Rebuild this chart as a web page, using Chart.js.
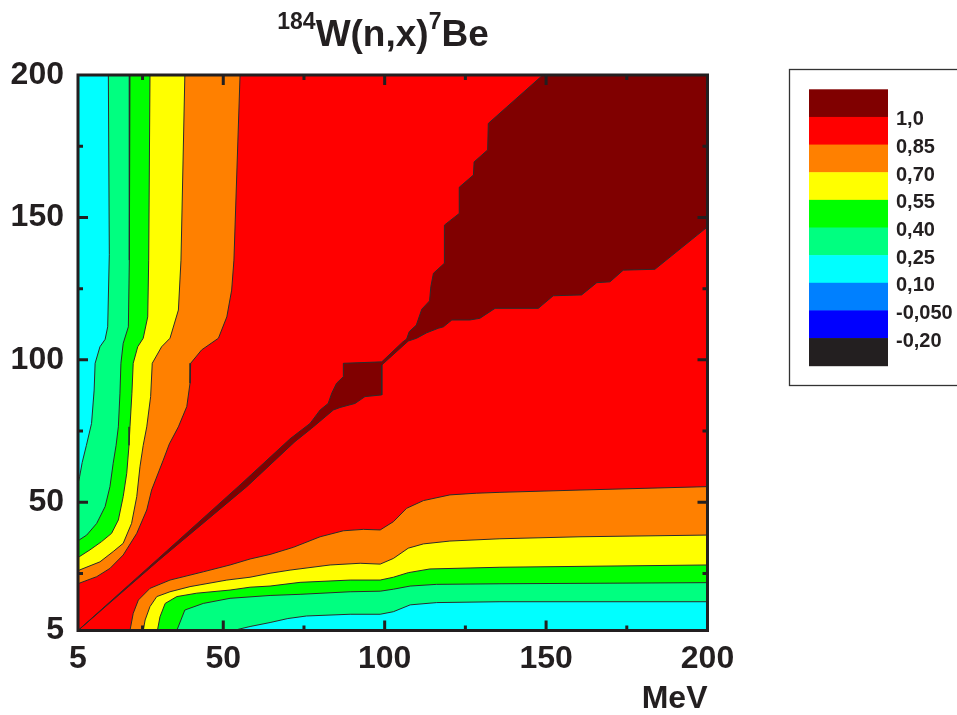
<!DOCTYPE html>
<html>
<head>
<meta charset="utf-8">
<script src="https://cdn.jsdelivr.net/npm/chart.js"></script>
<style>
  html, body { margin: 0; padding: 0; background: #fff; }
  #wrap { position: relative; width: 957px; height: 715px; }
</style>
</head>
<body>
<div id="wrap"><canvas id="contour" width="957" height="715"></canvas></div>
<script>
// axes (MeV on both)
const tickValues = [5, 50, 100, 150, 200];
const majorTicks = [50, 100, 150];
const minorTicks = [25, 75, 125, 175];

// fill colour of each band, lowest first
const bandColors = ['#00ffff', '#00ff80', '#00ff00', '#ffff00', '#ff8000', '#ff0000', '#800000'];

// colour key, top to bottom
const legendColors = ['#800000', '#ff0000', '#ff8000', '#ffff00', '#00ff00', '#00ff80', '#00ffff', '#0080ff', '#0000ff', '#231f20'];
const legendLabels = ['1,0', '0,85', '0,70', '0,55', '0,40', '0,25', '0,10', '-0,050', '-0,20'];

// contour lines, [x, y]
// left arm: from top edge down to left edge
const leftC025 = [[14.4,200],[14.7,137],[14.2,111.6],[13.4,107.2],[11.8,104.6],[10.3,98.8],[10.0,89.4],[9.2,77.7],[7.6,70],[6.3,64],[5.5,59],[5,56.5]];
const leftC040 = [[21.1,200],[20.9,135],[20.6,111.6],[19.0,105.8],[18.3,98.8],[18.0,88.3],[17.5,76.5],[16.8,70],[15.9,63.7],[14.9,55.5],[13.4,48.5],[10.8,42.6],[7.7,38.5],[5.4,36.8],[5,36.6]];
const leftC055 = [[27.3,200],[26.9,135],[26.6,115.1],[25.2,107.6],[23.5,104.6],[22.1,98.8],[21.7,88.3],[21.1,76.5],[20.8,70],[20.1,60.2],[19.0,52.0],[17.5,43.8],[15.4,39.1],[12.3,36.2],[8.7,33.3],[5.4,30.9],[5,30.8]];
const leftC070 = [[38.1,200],[36.9,135],[36.1,117.5],[33.5,107.6],[30.9,104.6],[28.0,98.8],[27.5,87.1],[26.3,76.5],[25.2,70],[24.2,62.5],[23.2,52.0],[21.6,42.6],[19.0,35.6],[15.9,32.7],[11.8,29.1],[5.4,26.2],[5,26.1]];
const leftC085 = [[55.2,200],[53.3,135],[52.6,124.5],[51.1,115.1],[48.5,107.6],[43.3,103.5],[39.9,98.8],[39.7,91.8],[38.7,83.6],[36.1,76.5],[33.3,70.5],[31.4,64.8],[27.8,54.3],[26.3,47.3],[23.2,39.1],[19.0,31.5],[14.9,26.8],[10.8,23.9],[5.4,21.6],[5,21.5]];

// bottom arm: from bottom edge across to right edge
const bottomC025 = [[53.1,5],[58.3,6.4],[64.5,7.8],[70,9.2],[75.8,10.1],[89.3,10.7],[98.6,10.7],[102.7,11.6],[107.9,14.0],[116.1,14.8],[135.7,15.1],[200,15.1]];
const bottomC040 = [[35.6,5],[38.1,12.2],[43.8,14.5],[52.1,16.3],[64.5,17.3],[73.8,17.7],[89.3,18.6],[98.6,18.8],[102.7,19.5],[107.9,20.6],[116.1,21.2],[135.7,21.4],[200,21.8]];
const bottomC055 = [[29.6,5],[30.4,9.8],[32.0,14.5],[35.6,16.9],[41.8,18.1],[52.1,19.2],[58.3,20.2],[64.5,20.6],[73.8,21.9],[89.3,22.7],[98.6,22.7],[102.7,23.7],[107.3,25.3],[114.0,26.6],[135.7,27.2],[200,28.0]];
const bottomC070 = [[25.2,5],[25.8,8.7],[27.3,13.4],[29.4,16.9],[33.5,18.6],[39.7,20.4],[51.1,22.7],[58.3,23.7],[64.5,25.1],[70.7,26.2],[83.1,28.0],[92.4,28.6],[98.6,28.3],[102.7,30.3],[107.3,33.9],[112.0,35.4],[120.2,36.4],[135.7,37.2],[160.5,37.9],[200,38.5]];
const bottomC085 = [[21.1,5],[22.1,11.0],[23.7,15.7],[27.3,19.8],[33.5,22.7],[43.8,25.6],[52.1,28.0],[58.3,30.1],[64.5,31.7],[71.7,34.2],[80.0,37.9],[87.2,40.0],[93.4,40.5],[98.6,40.3],[102.7,43.2],[106.8,47.9],[112.0,50.6],[120.2,52.6],[128.5,53.2],[135.7,53.5],[160.5,54.3],[200,55.5]];

// > 1.0 : thin ridge along the diagonal, blob near 90-100, big area top right
const ridgeUpper = [[5,5],[30,30.4],[55.2,56.1],[70.7,72.3],[76.9,77.7],[80.0,82.4],[82.5,84.7],[83.6,88.3],[85.1,91.8],[87.2,94.1],[87.2,98.8],[99.1,99.3],[105.5,106.2],[106.8,107.3],[107.6,109.9],[109.8,112.2],[111.5,117.8],[113.9,120.7],[114.3,125.7],[115.1,130.4],[118.5,133.9],[118.5,147.3],[123.1,151.4],[123.1,160.6],[127.5,164.9],[127.7,169.5],[131.9,173.7],[132.1,183.0],[149,200]];
const ridgeLower = [[200,146.7],[183.7,131.8],[173.9,131.5],[169.8,127.4],[165.7,127.1],[161.0,122.8],[152.2,122.5],[147.6,118.1],[134.2,118.1],[129.5,114.6],[126.4,114.0],[120.8,114.0],[118.2,111.6],[116.6,111.1],[113.0,109.5],[109.9,107.6],[107.3,106.6],[99.1,98.2],[99.1,87.7],[93.9,87.1],[90.8,84.7],[86.2,83.3],[84.1,82.4],[77.4,76.0],[72.2,71.3],[57.3,55.5],[30,29.6],[5,5]];

const plotBox = [[5,5],[200,5],[200,200],[5,200],[5,5]];

function toPoints(arr) {
  return arr.map(p => ({ x: p[0], y: p[1] }));
}

// region above a level = left contour, bottom-left corner, bottom contour, top-right corner
function band(left, bottom) {
  return toPoints(left.concat([[5, 5]], bottom, [[200, 200]], [left[0]]));
}

const shapes = [
  toPoints(plotBox),
  band(leftC025, bottomC025),
  band(leftC040, bottomC040),
  band(leftC055, bottomC055),
  band(leftC070, bottomC070),
  band(leftC085, bottomC085),
  toPoints(ridgeUpper.concat([[200, 200]], ridgeLower))
];

const datasets = shapes.map((pts, i) => ({
  data: pts,
  showLine: true,
  fill: 'shape',
  backgroundColor: bandColors[i],
  borderColor: '#2b2b2b',
  borderWidth: i === 0 ? 0 : 1,
  pointRadius: 0,
  tension: 0,
  order: shapes.length - i
}));

const ink = '#231f20';
const fontFamily = '"Liberation Sans", Arial, Helvetica, sans-serif';

const framePlugin = {
  id: 'frame',
  afterDraw(chart) {
    const { ctx, chartArea: a, scales: { x, y } } = chart;
    ctx.save();

    // frame + inward ticks on all four sides
    ctx.strokeStyle = ink;
    ctx.lineWidth = 3;
    ctx.strokeRect(a.left, a.top, a.right - a.left, a.bottom - a.top);
    ctx.beginPath();
    const marks = majorTicks.map(v => [v, 10]).concat(minorTicks.map(v => [v, 5]));
    marks.forEach(([v, len]) => {
      const px = x.getPixelForValue(v);
      const py = y.getPixelForValue(v);
      ctx.moveTo(px, a.bottom); ctx.lineTo(px, a.bottom - len);
      ctx.moveTo(px, a.top); ctx.lineTo(px, a.top + len);
      ctx.moveTo(a.left, py); ctx.lineTo(a.left + len, py);
      ctx.moveTo(a.right, py); ctx.lineTo(a.right - len, py);
    });
    ctx.stroke();

    // title with superscripts
    const parts = [['184', 23, 29], ['W(n,x)', 37, 46], ['7', 23, 29], ['Be', 37, 46]];
    let total = 0;
    parts.forEach(p => {
      ctx.font = 'bold ' + p[1] + 'px ' + fontFamily;
      total += ctx.measureText(p[0]).width;
    });
    let tx = 383 - total / 2;
    ctx.fillStyle = ink;
    ctx.textBaseline = 'alphabetic';
    ctx.textAlign = 'left';
    parts.forEach(p => {
      ctx.font = 'bold ' + p[1] + 'px ' + fontFamily;
      ctx.fillText(p[0], tx, p[2]);
      tx += ctx.measureText(p[0]).width;
    });

    // colour key
    const kx = 809, ky = 89.3, kw = 79, kh = 27.64;
    ctx.lineWidth = 1.3;
    ctx.strokeStyle = '#333';
    ctx.strokeRect(789.5, 69.5, 200, 316);
    legendColors.forEach((c, i) => {
      ctx.fillStyle = c;
      ctx.fillRect(kx, ky + i * kh, kw, kh + 0.5);
    });
    ctx.fillStyle = ink;
    ctx.font = 'bold 20px ' + fontFamily;
    ctx.textBaseline = 'middle';
    legendLabels.forEach((t, i) => {
      ctx.fillText(t, 896, ky + (i + 1) * kh + 3);
    });
    ctx.restore();
  }
};

const tickFont = { family: fontFamily, size: 32, weight: 'bold' };

new Chart(document.getElementById('contour'), {
  type: 'scatter',
  data: { datasets: datasets },
  options: {
    responsive: false,
    animation: false,
    events: [],
    layout: { padding: { top: 75, right: 249.5, bottom: 0, left: 0 } },
    plugins: {
      legend: { display: false },
      tooltip: { enabled: false },
      title: { display: false }
    },
    scales: {
      x: {
        type: 'linear',
        min: 5,
        max: 200,
        grid: { display: false, drawTicks: false },
        border: { display: false },
        afterBuildTicks: scale => { scale.ticks = tickValues.map(v => ({ value: v })); },
        afterFit: scale => { scale.height = 84.5; },
        ticks: { autoSkip: false, maxRotation: 0, padding: 9, color: ink, font: tickFont },
        title: {
          display: true,
          text: 'MeV',
          align: 'end',
          color: ink,
          padding: 0,
          font: { family: fontFamily, size: 32, weight: 'bold', lineHeight: 1 }
        }
      },
      y: {
        type: 'linear',
        min: 5,
        max: 200,
        grid: { display: false, drawTicks: false },
        border: { display: false },
        afterBuildTicks: scale => { scale.ticks = tickValues.map(v => ({ value: v })); },
        afterFit: scale => { scale.width = 78; },
        ticks: { autoSkip: false, padding: 14, color: ink, font: tickFont }
      }
    }
  },
  plugins: [framePlugin]
});
</script>
</body>
</html>
